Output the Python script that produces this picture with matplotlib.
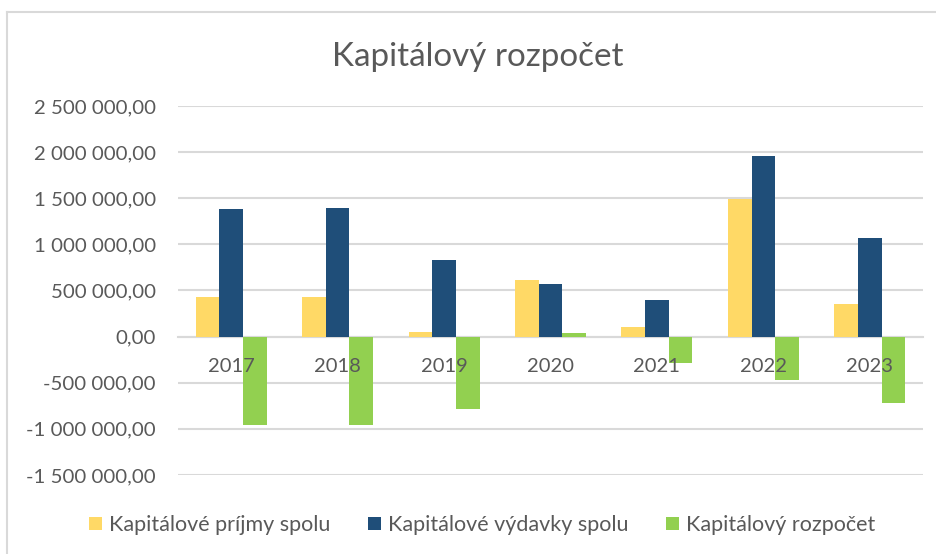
import matplotlib
matplotlib.use("Agg")
import matplotlib.pyplot as plt
import numpy as np
from matplotlib.patches import Patch
from matplotlib.lines import Line2D
from matplotlib.ticker import FuncFormatter

years = ["2017", "2018", "2019", "2020", "2021", "2022", "2023"]
prijmy = [433000, 433000, 54000, 617000, 105000, 1490000, 354000]
vydavky = [1379000, 1396000, 830000, 567000, 394000, 1963000, 1065000]
rozpocet = [-959000, -963000, -786000, 40000, -288000, -472000, -721000]
series_names = ["Kapitálové príjmy spolu", "Kapitálové výdavky spolu", "Kapitálový rozpočet"]
colors = ["#FFD966", "#1F4E79", "#92D050"]
title = "Kapitálový rozpočet"

plt.rcParams["font.family"] = ["Lato", "DejaVu Sans"]
W, H = 937, 554
fig = plt.figure(figsize=(W / 100, H / 100), dpi=100)
ax = fig.add_axes([178 / W, 1 - 475 / H, (923 - 178) / W, (475 - 106) / H])

x = np.arange(len(years))
bw = 1 / 4.5
for i, (vals, c, n) in enumerate(zip([prijmy, vydavky, rozpocet], colors, series_names)):
    ax.bar(x + (i - 1) * bw, vals, width=bw, color=c, label=n, zorder=3)

ax.set_xlim(-0.5, len(years) - 0.5)
ax.set_ylim(-1500000, 2500000)
ax.set_yticks(np.arange(-1500000, 2500001, 500000))

def fmt(v, pos):
    s = f"{abs(v):,.2f}".replace(",", " ").replace(".", ",")
    return ("-" if v < 0 else "") + s

ax.yaxis.set_major_formatter(FuncFormatter(fmt))
ax.grid(axis="y", color="#D9D9D9", linewidth=1.5, zorder=0)
ax.set_axisbelow(True)
for s in ["left", "right", "top"]:
    ax.spines[s].set_visible(False)
ax.spines["bottom"].set_position(("data", 0))
ax.spines["bottom"].set_color("#D9D9D9")
ax.spines["bottom"].set_linewidth(1.5)
ax.spines["bottom"].set_zorder(2)
ax.set_xticks(x)
ax.set_xticklabels([])
ax.tick_params(axis="x", length=0)
ax.tick_params(axis="y", length=0, pad=16, labelsize=14.7, labelcolor="#595959")

# category labels drawn on top of the bars, just below the zero line
for xi, yr in zip(x, years):
    ax.annotate(yr, xy=(xi, 0), xytext=(0, -30), textcoords="offset pixels",
                ha="center", va="center", fontsize=14.5, color="#595959", zorder=5)

fig.text(478 / W, 1 - 57 / H, title, ha="center", va="center", fontsize=23.9, color="#595959")

handles = [Patch(facecolor=c, edgecolor="none") for c in colors]
fig.legend(handles, series_names, loc="center", bbox_to_anchor=(482 / W, 1 - 525 / H),
           ncol=3, frameon=False, fontsize=15.5, labelcolor="#595959",
           handlelength=0.6, handleheight=0.6, handletextpad=0.33, columnspacing=1.75)

# chart frame lines
fig.add_artist(Line2D([7 / W, 7 / W], [0, 1 - 12 / H], color="#D9D9D9", linewidth=1.5))
fig.add_artist(Line2D([7 / W, 1], [1 - 12 / H, 1 - 12 / H], color="#D9D9D9", linewidth=1.5))

fig.savefig("out.png", dpi=100, facecolor="white")
